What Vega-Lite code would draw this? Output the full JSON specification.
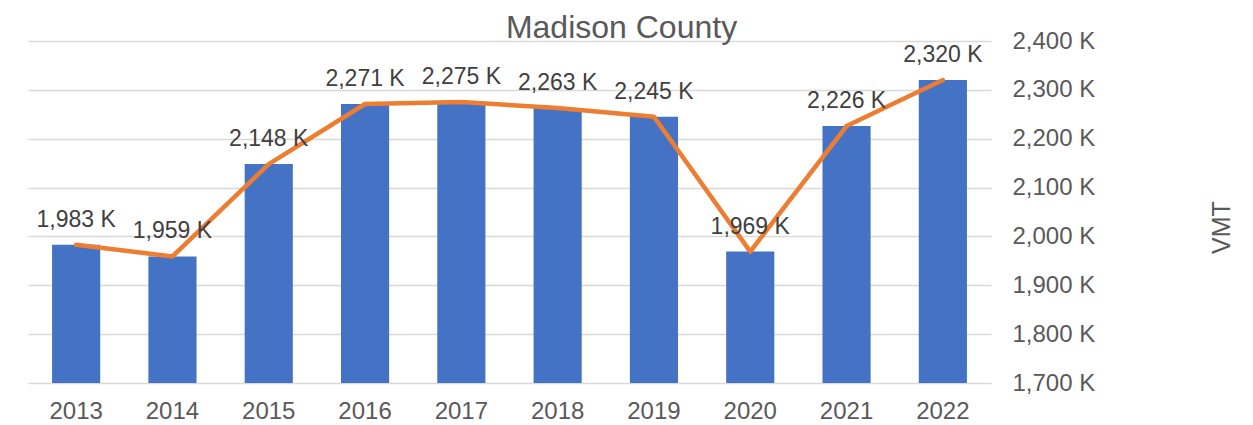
{
  "$schema": "https://vega.github.io/schema/vega-lite/v6.json",
  "width": 963,
  "height": 342,
  "autosize": {"type": "none"},
  "padding": {"left": 28, "top": 41, "right": 262, "bottom": 42},
  "background": "white",
  "title": {
    "text": "Madison County",
    "frame": "group",
    "anchor": "middle",
    "dx": 112,
    "dy": 43,
    "offset": 2,
    "baseline": "alphabetic",
    "font": "Liberation Sans",
    "fontSize": 32,
    "fontWeight": "normal",
    "color": "#595959"
  },
  "data": {
    "values": [
      {"year": "2013", "vmt": 1983},
      {"year": "2014", "vmt": 1959},
      {"year": "2015", "vmt": 2148},
      {"year": "2016", "vmt": 2271},
      {"year": "2017", "vmt": 2275},
      {"year": "2018", "vmt": 2263},
      {"year": "2019", "vmt": 2245},
      {"year": "2020", "vmt": 1969},
      {"year": "2021", "vmt": 2226},
      {"year": "2022", "vmt": 2320}
    ]
  },
  "transform": [
    {"calculate": "format(datum.vmt, ',') + ' K'", "as": "label"}
  ],
  "encoding": {
    "x": {
      "field": "year",
      "type": "ordinal",
      "scale": {"paddingInner": 0.5, "paddingOuter": 0.25},
      "axis": {
        "title": null,
        "labelAngle": 0,
        "ticks": false,
        "domain": false,
        "grid": false,
        "labelPadding": 16,
        "labelFont": "Liberation Sans",
        "labelFontSize": 24,
        "labelColor": "#595959"
      }
    }
  },
  "layer": [
    {
      "mark": {"type": "bar", "color": "#4472C4"},
      "encoding": {
        "y": {
          "field": "vmt",
          "type": "quantitative",
          "scale": {"domain": [1700, 2400], "zero": false, "nice": false},
          "axis": {
            "orient": "right",
            "title": "VMT",
            "values": [1700, 1800, 1900, 2000, 2100, 2200, 2300, 2400],
            "labelExpr": "format(datum.value, ',') + ' K'",
            "ticks": false,
            "domain": false,
            "grid": true,
            "gridColor": "#d9d9d9",
            "gridWidth": 1.5,
            "labelPadding": 21,
            "labelFont": "Liberation Sans",
            "labelFontSize": 24,
            "labelColor": "#595959",
            "titleFont": "Liberation Sans",
            "titleFontSize": 25,
            "titleFontWeight": "normal",
            "titleColor": "#595959",
            "titleAngle": 270,
            "titleX": 230,
            "titleY": 186,
            "titleAlign": "center",
            "titleBaseline": "middle"
          }
        },
        "y2": {"datum": 1700}
      }
    },
    {
      "mark": {"type": "line", "color": "#ED7D31", "strokeWidth": 4.5, "strokeCap": "round", "strokeJoin": "round"},
      "encoding": {
        "y": {"field": "vmt", "type": "quantitative"}
      }
    },
    {
      "mark": {"type": "text", "baseline": "alphabetic", "dy": -18, "font": "Liberation Sans", "fontSize": 23, "color": "#404040"},
      "encoding": {
        "y": {"field": "vmt", "type": "quantitative"},
        "text": {"field": "label"}
      }
    }
  ],
  "config": {
    "view": {"stroke": null}
  }
}
